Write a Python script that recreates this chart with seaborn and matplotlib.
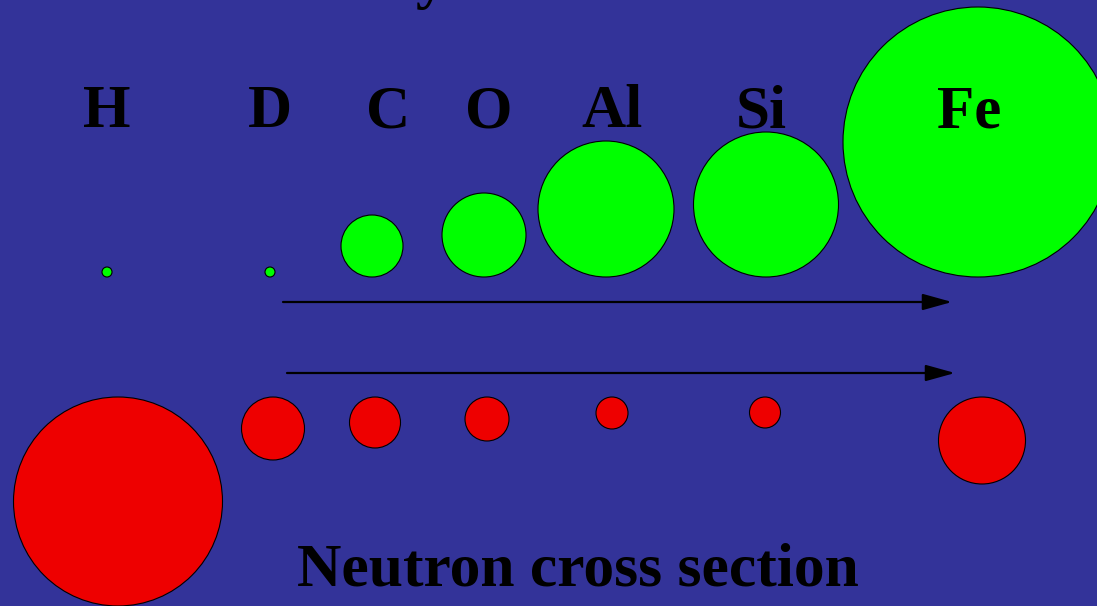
import matplotlib
matplotlib.use("Agg")
import matplotlib.pyplot as plt
import seaborn as sns

# elements and the size of each cross section (circle diameter, px)
elements = ["H", "D", "C", "O", "Al", "Si", "Fe"]
xray_size = [10, 10, 62, 84, 136, 145, 270]
neutron_size = [209, 63, 51, 44, 32, 31, 87]

# layout: column positions
label_x = [107, 270, 388, 489, 612, 761, 969]
xray_x = [107, 270, 372, 484, 606, 766, 978]
neutron_x = [118, 273, 375, 487, 612, 765, 982]
xray_bottom = 277
neutron_top = 397

bg = "#333399"
W, H, DPI = 1097, 606, 100

sns.set_style("white")
plt.rcParams["font.family"] = ["Liberation Serif", "DejaVu Serif"]

fig = plt.figure(figsize=(W / DPI, H / DPI), dpi=DPI, facecolor=bg)
ax = fig.add_axes([0, 0, 1, 1])
ax.set_facecolor(bg)
ax.set_xlim(0, W)
ax.set_ylim(H, 0)
ax.axis("off")

px2pt = 72 / DPI

# X-ray cross section (green), bottoms aligned
xray_y = [xray_bottom - d / 2 for d in xray_size]
sns.scatterplot(x=xray_x, y=xray_y, s=[(d * px2pt) ** 2 for d in xray_size],
                color="#00ff00", edgecolor="black", linewidth=0.8, ax=ax,
                zorder=2, legend=False)

# neutron cross section (red), tops aligned
neutron_y = [neutron_top + d / 2 for d in neutron_size]
sns.scatterplot(x=neutron_x, y=neutron_y, s=[(d * px2pt) ** 2 for d in neutron_size],
                color="#ee0000", edgecolor="black", linewidth=0.8, ax=ax,
                zorder=2, legend=False)

# element labels
for name, x in zip(elements, label_x):
    ax.text(x, 127, name, ha="center", va="baseline", fontsize=44,
            fontweight="bold", color="black", zorder=3)

# arrows
arrow = dict(arrowstyle="-|>,head_length=1.8,head_width=0.5", color="black",
             lw=1.6, mutation_scale=10, shrinkA=0, shrinkB=0)
ax.annotate("", xy=(952, 302), xytext=(283, 302), arrowprops=arrow, zorder=4)
ax.annotate("", xy=(955, 373), xytext=(287, 373), arrowprops=arrow, zorder=4)

# titles (the upper one is cut off by the top edge, as in the original)
ax.text(578, 585, "Neutron cross section", ha="center", va="baseline",
        fontsize=44.3, fontweight="bold", color="black")
ax.text(542, -3, "X-ray cross section", ha="center", va="baseline",
        fontsize=44.3, fontweight="bold", color="black", clip_on=True)

fig.savefig("out.png", dpi=DPI, facecolor=bg)
